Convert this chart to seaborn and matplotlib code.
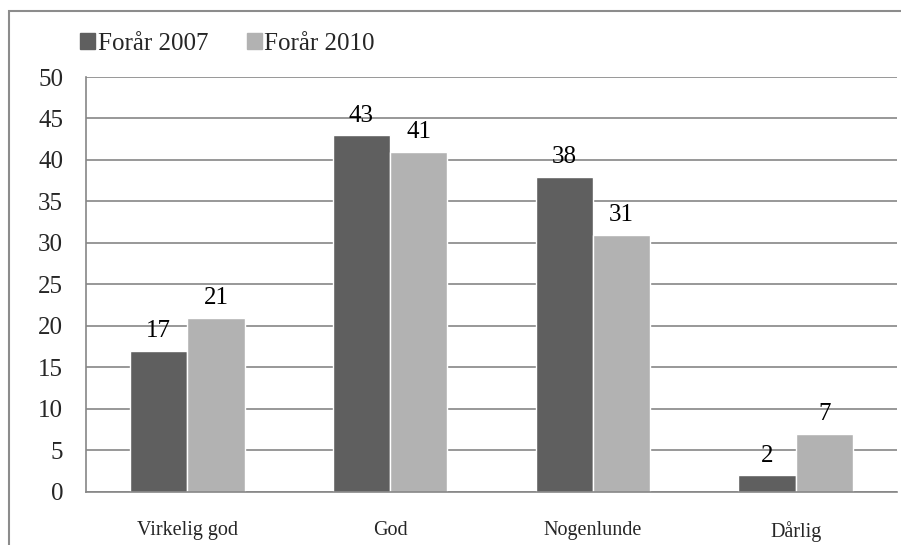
import pandas as pd
import matplotlib
matplotlib.use('Agg')
import matplotlib.pyplot as plt
import matplotlib.patches as mpatches
import seaborn as sns

# data
categories = ['Virkelig god', 'God', 'Nogenlunde', 'Dårlig']
series_names = ['Forår 2007', 'Forår 2010']
values_2007 = [17, 43, 38, 2]
values_2010 = [21, 41, 31, 7]
y_ticks = [0, 5, 10, 15, 20, 25, 30, 35, 40, 45, 50]

colors = ['#5f5f5f', '#b2b2b2']

df = pd.DataFrame({
    'kategori': categories * 2,
    'serie': [series_names[0]] * 4 + [series_names[1]] * 4,
    'pct': values_2007 + values_2010,
})

sns.set_style('white')
plt.rcParams['font.family'] = ['Liberation Serif', 'DejaVu Serif']

fig = plt.figure(figsize=(9.01, 5.45), dpi=100)
ax = fig.add_axes([86 / 901, 1 - 491.7 / 545, 811 / 901, (491.7 - 77) / 545])

sns.barplot(data=df, x='kategori', y='pct', hue='serie', palette=colors,
            width=0.565, gap=0, saturation=1, ax=ax, legend=False)

for cont in ax.containers:
    ax.bar_label(cont, fmt='%d', padding=6, fontsize=18, color='black')

ax.set_ylim(0, 50)
ax.set_xlim(-0.5, 3.5)
ax.set_yticks(y_ticks)
ax.yaxis.grid(True, color='#868686', linewidth=1.2)
ax.set_axisbelow(True)
ax.set_xlabel('')
ax.set_ylabel('')

# category labels at the centres, tick marks at the boundaries
ax.set_xticks(range(len(categories)))
ax.set_xticklabels(categories, fontsize=14.5)
ax.tick_params(axis='x', which='major', length=0, pad=21)
ax.set_xticks([-0.5, 0.5, 1.5, 2.5, 3.5], minor=True)
ax.tick_params(axis='x', which='minor', length=6, width=1.2, color='#868686', direction='out')
ax.tick_params(axis='y', length=6.5, width=1.2, color='#868686', pad=10, labelsize=18, direction='out')

for side in ['top', 'right']:
    ax.spines[side].set_visible(False)
for side in ['left', 'bottom']:
    ax.spines[side].set_color('#868686')
    ax.spines[side].set_linewidth(1.2)

handles = [mpatches.Patch(color=c, label=n) for c, n in zip(colors, series_names)]
fig.legend(handles=handles, loc='center left', bbox_to_anchor=(70 / 901, 1 - 44 / 545),
           ncol=2, frameon=False, fontsize=18, handlelength=0.6, handleheight=0.6,
           handletextpad=0.1, columnspacing=1.55, borderaxespad=0)

# outer chart border
fig.patches.append(mpatches.Rectangle((9 / 901, -0.1), 1.2, 1 - 11 / 545 + 0.1,
                                      transform=fig.transFigure, fill=False,
                                      edgecolor='#8c8c8c', linewidth=1.5))

plt.savefig('out.png', dpi=100)
